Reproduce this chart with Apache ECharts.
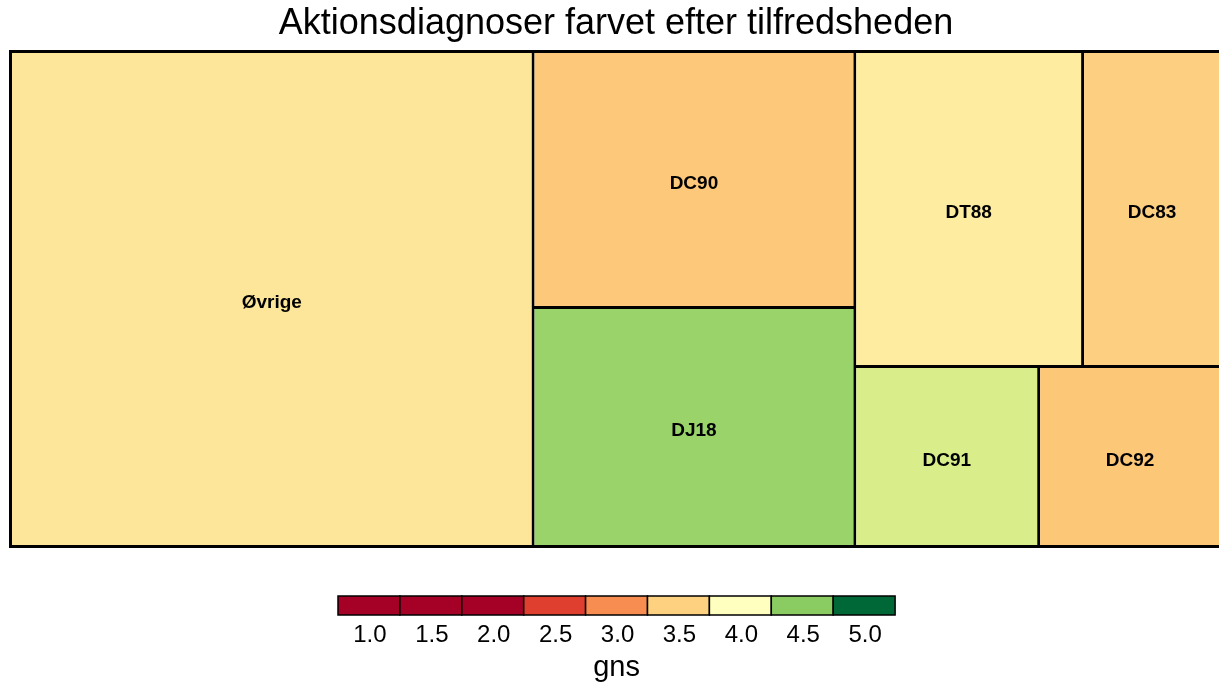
<!DOCTYPE html>
<html>
<head>
<meta charset="utf-8">
<script src="https://cdn.jsdelivr.net/npm/echarts@6/dist/echarts.min.js"></script>
<style>
  html, body { margin: 0; padding: 0; background: #fff; }
  #chart { width: 1219px; height: 683px; }
</style>
</head>
<body>
<div id="chart"></div>
<script>
// Action diagnoses: size of each cell, and mean satisfaction (gns) that sets its colour
const diagnoses = ['Øvrige', 'DC90', 'DJ18', 'DT88', 'DC83', 'DC91', 'DC92'];
const sizes = [431.5, 137.4, 128.3, 119.7, 73.0, 55.2, 54.9];
const gns = [3.8, 3.4, 4.4, 3.9, 3.5, 4.2, 3.4];
const cellColors = ['#FDE699', '#FDC879', '#9AD36A', '#FEEDA0', '#FDCF80', '#D9EE8B', '#FDC778'];

// Colour key
const keyLabels = ['1.0', '1.5', '2.0', '2.5', '3.0', '3.5', '4.0', '4.5', '5.0'];
const keyColors = ['#A50026', '#A50026', '#A50026', '#DE3F2E', '#F88D52', '#FDD17F', '#FFFFBF', '#8ACC62', '#006837'];

const FONT = '"Liberation Sans", Arial, sans-serif';
const chart = echarts.init(document.getElementById('chart'), null, { renderer: 'canvas' });

const data = diagnoses.map((name, i) => ({
  name: name,
  value: [sizes[i], gns[i]],
  itemStyle: { color: cellColors[i] }
}));

// Colour key drawn as a row of boxes with labels beneath
const keyLeft = 338, keyTop = 596, cellW = 61.9, cellH = 19;
const keyGraphics = [];
keyColors.forEach((c, i) => {
  keyGraphics.push({
    type: 'rect',
    shape: { x: keyLeft + i * cellW, y: keyTop, width: cellW, height: cellH },
    style: { fill: c, stroke: '#000', lineWidth: 1.5 }
  });
  keyGraphics.push({
    type: 'text',
    x: keyLeft + i * cellW + cellW / 2 + 1,
    y: keyTop + cellH + 8,
    style: { text: keyLabels[i], font: '24px ' + FONT, fill: '#000', align: 'center', verticalAlign: 'top' }
  });
});
keyGraphics.push({
  type: 'text',
  x: keyLeft + 4.5 * cellW,
  y: 653,
  style: { text: 'gns', font: '29px ' + FONT, fill: '#000', align: 'center', verticalAlign: 'top' }
});
keyGraphics.push({
  type: 'text',
  x: 616,
  y: 6,
  style: { text: 'Aktionsdiagnoser farvet efter tilfredsheden', font: '36px ' + FONT, fill: '#000', align: 'center', verticalAlign: 'top' }
});

chart.setOption({
  animation: false,
  backgroundColor: '#fff',
  graphic: keyGraphics,
  series: [{
    type: 'treemap',
    left: 9,
    top: 50,
    width: 1214,
    height: 498,
    roam: false,
    nodeClick: false,
    breadcrumb: { show: false },
    squareRatio: 0.5 * (1 + Math.sqrt(5)),
    label: {
      show: true,
      position: 'inside',
      align: 'center',
      verticalAlign: 'middle',
      offset: [0, 4],
      formatter: '{b}',
      color: '#000',
      fontFamily: FONT,
      fontWeight: 'bold',
      fontSize: 19
    },
    itemStyle: { borderWidth: 0, gapWidth: 0 },
    levels: [
      { itemStyle: { borderColor: '#000', borderWidth: 3, gapWidth: 3 } },
      { itemStyle: { borderWidth: 0 } }
    ],
    data: data
  }]
});
</script>
</body>
</html>
